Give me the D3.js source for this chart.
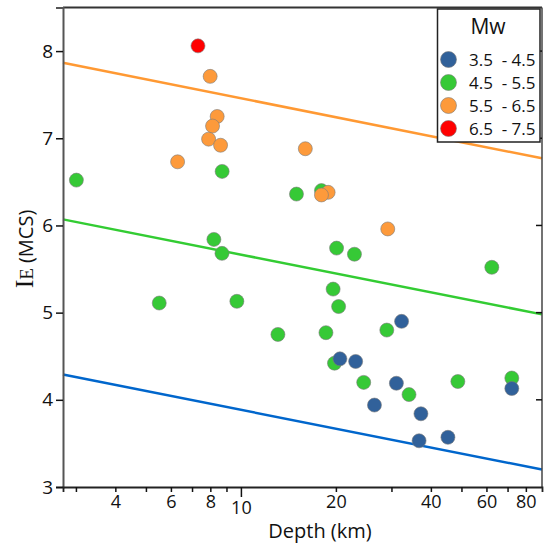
<!DOCTYPE html>
<html>
<head>
<meta charset="utf-8">
<script src="https://cdn.jsdelivr.net/npm/d3@7"></script>
<style>
  html, body { margin: 0; padding: 0; background: #fff; }
  svg { display: block; font-family: "Open Sans", "Noto Sans", sans-serif; }
</style>
</head>
<body>
<svg id="chart" width="544" height="545"></svg>
<script>
// ---- data (depth km, I_E) ----
const classLabels = ["3.5  - 4.5", "4.5  - 5.5", "5.5  - 6.5", "6.5  - 7.5"];
const classColors = ["#31619a", "#36c936", "#fd9a3b", "#ff0000"];

const seriesBlue = [[32.3,4.90],[20.6,4.47],[23.1,4.44],[31.1,4.19],[26.5,3.94],[37.2,3.84],[36.7,3.53],[45.3,3.57],[72.2,4.13]];
const seriesGreen = [[3.01,6.52],[8.72,6.62],[15.0,6.36],[18.0,6.40],[8.21,5.84],[8.71,5.68],[5.51,5.11],[9.71,5.13],[13.1,4.75],[20.1,5.74],[22.9,5.67],[19.6,5.27],[20.4,5.07],[18.6,4.77],[29.0,4.80],[19.8,4.42],[24.5,4.20],[34.1,4.06],[62.4,5.52],[48.7,4.21],[72.2,4.25]];
const seriesOrange = [[7.99,7.71],[8.41,7.25],[8.13,7.14],[7.90,6.99],[8.62,6.92],[6.30,6.73],[16.0,6.88],[18.9,6.38],[18.0,6.35],[29.2,5.96]];
const seriesRed = [[7.31,8.06]];

// regression lines: values at left and right ends of the depth range
const lineDepths = [2.73, 90];
const lineBlue = [4.29, 3.20];
const lineGreen = [6.07, 4.98];
const lineOrange = [7.866, 6.77];
const lineColors = ["#0066cc", "#33cc33", "#ff9933"];

const xTickValues = [3,4,5,6,7,8,9,10,20,30,40,50,60,70,80];
const xTickLabels = {4:"4",6:"6",8:"8",10:"10",20:"20",40:"40",60:"60",80:"80"};
const yTickValues = [3,4,5,6,7,8];

// ---- layout ----
const svg = d3.select("#chart");
const L = 63, R = 542, T = 7.5, B = 487;
const x = d3.scaleLog().domain(lineDepths).range([L, R]);
const y = d3.scaleLinear().domain([3, 8.5]).range([B, T]);

// lines
const lineGen = d3.line().x(d => x(d[0])).y(d => y(d[1]));
[lineBlue, lineGreen, lineOrange].forEach((vals, i) => {
  svg.append("path")
    .datum(lineDepths.map((d, j) => [d, vals[j]]))
    .attr("d", lineGen)
    .attr("fill", "none")
    .attr("stroke", lineColors[i])
    .attr("stroke-width", 2.5);
});

// points (draw order: green, blue, orange, red)
const drawOrder = [[seriesGreen, 1], [seriesBlue, 0], [seriesOrange, 2], [seriesRed, 3]];
drawOrder.forEach(([data, ci]) => {
  svg.append("g").selectAll("circle").data(data).join("circle")
    .attr("cx", d => x(d[0]))
    .attr("cy", d => y(d[1]))
    .attr("r", 7)
    .attr("fill", classColors[ci])
    .attr("stroke", "#7a7a7a")
    .attr("stroke-width", 0.6);
});

// frame
svg.append("line").attr("x1", L).attr("x2", R).attr("y1", T).attr("y2", T)
  .attr("stroke", "#333").attr("stroke-width", 2);
svg.append("line").attr("x1", R).attr("x2", R).attr("y1", T).attr("y2", B)
  .attr("stroke", "#444").attr("stroke-width", 1.5);

// right inner ticks
svg.append("g").selectAll("line").data(yTickValues.slice(1)).join("line")
  .attr("x1", R - 6).attr("x2", R).attr("y1", d => y(d)).attr("y2", d => y(d))
  .attr("stroke", "#111").attr("stroke-width", 1.5);

// y axis
const yAxis = d3.axisLeft(y).tickValues(yTickValues).tickFormat(d3.format("d")).tickSize(7).tickPadding(3);
const gy = svg.append("g").attr("transform", `translate(${L},0)`).call(yAxis);
gy.select(".domain").attr("stroke", "#555").attr("stroke-width", 2);
gy.selectAll(".tick line").attr("stroke", "#111").attr("stroke-width", 1.5);
gy.selectAll(".tick text").attr("font-size", 19).attr("fill", "#111")
  .attr("font-family", "Open Sans, sans-serif");

// x axis
const xAxis = d3.axisBottom(x).tickValues(xTickValues)
  .tickFormat(d => xTickLabels[d] || "").tickSize(5).tickPadding(6);
const gx = svg.append("g").attr("transform", `translate(0,${B})`).call(xAxis);
gx.select(".domain").attr("stroke", "#222").attr("stroke-width", 1.8);
gx.selectAll(".tick line").attr("stroke", "#111").attr("stroke-width", 1.5)
  .attr("y2", d => d === 10 ? 10 : 5);
gx.selectAll(".tick text").attr("font-size", 18).attr("fill", "#111")
  .attr("font-family", "Open Sans, sans-serif")
  .attr("y", d => d === 10 ? 14 : 8);

// axis titles
svg.append("text").attr("x", 320).attr("y", 538).attr("text-anchor", "middle")
  .attr("font-size", 20).attr("fill", "#111").text("Depth (km)");

const yt = svg.append("text").attr("transform", "translate(33,249) rotate(-90)")
  .attr("text-anchor", "middle").attr("fill", "#111");
yt.append("tspan").attr("font-family", "Liberation Serif, DejaVu Serif, serif").attr("font-size", 26).text("I");
yt.append("tspan").attr("font-family", "Liberation Serif, DejaVu Serif, serif").attr("font-size", 19).text("E");
yt.append("tspan").attr("font-size", 20).attr("dx", 5).text("(MCS)");

// legend
const lg = svg.append("g");
lg.append("rect").attr("x", 437.5).attr("y", 9).attr("width", 102.5).attr("height", 133)
  .attr("fill", "#fff").attr("stroke", "#222").attr("stroke-width", 1.5);
lg.append("text").attr("x", 488).attr("y", 34).attr("text-anchor", "middle")
  .attr("font-size", 21).attr("fill", "#111").text("Mw");
const legY = d3.scaleLinear().domain([0, 3]).range([59.5, 128.5]);
classLabels.forEach((lab, i) => {
  lg.append("circle").attr("cx", 448.5).attr("cy", legY(i)).attr("r", 8)
    .attr("fill", classColors[i]).attr("stroke", "#7a7a7a").attr("stroke-width", 0.6);
  lg.append("text").attr("x", 469).attr("y", legY(i) + 6)
    .attr("font-size", 17).attr("fill", "#111").style("white-space", "pre").text(lab);
});
</script>
</body>
</html>
